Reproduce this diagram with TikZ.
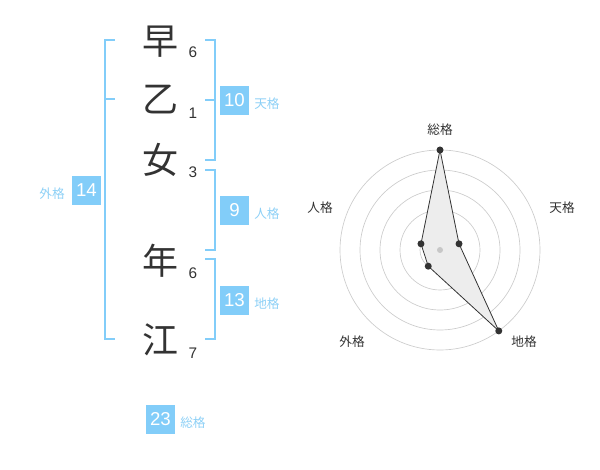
\documentclass[tikz,border=0pt]{standalone}
\usepackage{fontspec}
\setmainfont{Liberation Sans}
\newfontfamily\cjk{Noto Sans CJK JP}
\definecolor{kakublue}{HTML}{82CDF9}
\definecolor{kakutext}{HTML}{8DD0F6}
\definecolor{inkgray}{HTML}{333333}

\begin{document}
\begin{tikzpicture}[x=0.75pt, y=-0.75pt,
  kanji/.style={font=\cjk\fontsize{27}{27}\selectfont, text=inkgray, inner sep=0pt},
  strokes/.style={font=\fontsize{11.5}{11.5}\selectfont, text=inkgray, inner sep=0pt},
  kakubox/.style={fill=kakublue, text=white, font=\fontsize{14}{14}\selectfont, minimum width=21.75pt, minimum height=21.75pt, inner sep=0pt},
  kakulabel/.style={font=\cjk\fontsize{9.5}{9.5}\selectfont, text=kakutext, inner sep=0pt},
  bracket/.style={draw=kakublue, line width=1.5pt},
  ring/.style={draw=black!20, line width=0.5pt},
  axislabel/.style={font=\cjk\fontsize{9.5}{9.5}\selectfont, text=inkgray, inner sep=0pt},
  dot/.style={circle, fill=inkgray, inner sep=0pt, minimum size=5.25pt}]
\useasboundingbox (0,0) rectangle (600,470);

% Name
\node[kanji] (k1) at (160,42) {早};
\node[kanji] (k2) at (160,100) {乙};
\node[kanji] (k3) at (160,160) {女};
\node[kanji] (k4) at (160,261) {年};
\node[kanji] (k5) at (160,340) {江};

% Stroke counts
\node[strokes] (s1) at (193,52) {6};
\node[strokes] (s2) at (193,113) {1};
\node[strokes] (s3) at (193,172) {3};
\node[strokes] (s4) at (193,273) {6};
\node[strokes] (s5) at (193,353) {7};

% Brackets
\draw[bracket] (115,40) -- (105,40) -- (105,339) -- (115,339);
\draw[bracket] (105,99.5) -- (115,99.5);
\draw[bracket] (205,40) -- (215,40) -- (215,160) -- (205,160);
\draw[bracket] (205,100) -- (215,100);
\draw[bracket] (205,170) -- (215,170) -- (215,250) -- (205,250);
\draw[bracket] (205,259) -- (215,259) -- (215,339) -- (205,339);

% Kaku values
\node[kakubox] (ten) at (234.5,100.5) {10};
\node[kakulabel, anchor=west] (tenl) at (254,104) {天格};
\node[kakubox] (jin) at (234.5,210.5) {9};
\node[kakulabel, anchor=west] (jinl) at (254,214) {人格};
\node[kakubox] (chi) at (234.5,300.5) {13};
\node[kakulabel, anchor=west] (chil) at (254,304) {地格};
\node[kakubox] (gai) at (86.5,190.5) {14};
\node[kakulabel, anchor=east] (gail) at (65,194) {外格};
\node[kakubox] (sou) at (160.5,419.5) {23};
\node[kakulabel, anchor=west] (soul) at (180,423) {総格};

% Radar chart
\begin{scope}[shift={(440,250)}]
\foreach \r in {20,40,60,80,100}
  \draw[ring] (0,0) circle (\r);
\coordinate (rsou) at (-90:100);
\coordinate (rten) at (-18:20);
\coordinate (rchi) at (54:100);
\coordinate (rgai) at (126:20);
\coordinate (rjin) at (198:20);
\draw[fill=black!7, draw=inkgray, line width=0.6pt] (rsou) -- (rten) -- (rchi) -- (rgai) -- (rjin) -- cycle;
\node[circle, fill=black!22, inner sep=0pt, minimum size=4.5pt] (mid) at (0,0) {};
\foreach \p in {rsou,rten,rchi,rgai,rjin}
  \node[dot] at (\p) {};
\node[axislabel] (asou) at (0,-120) {総格};
\node[axislabel] (aten) at (122,-42) {天格};
\node[axislabel] (achi) at (84,92) {地格};
\node[axislabel] (agai) at (-88,92) {外格};
\node[axislabel] (ajin) at (-120,-42) {人格};
\end{scope}

\end{tikzpicture}
\end{document}
